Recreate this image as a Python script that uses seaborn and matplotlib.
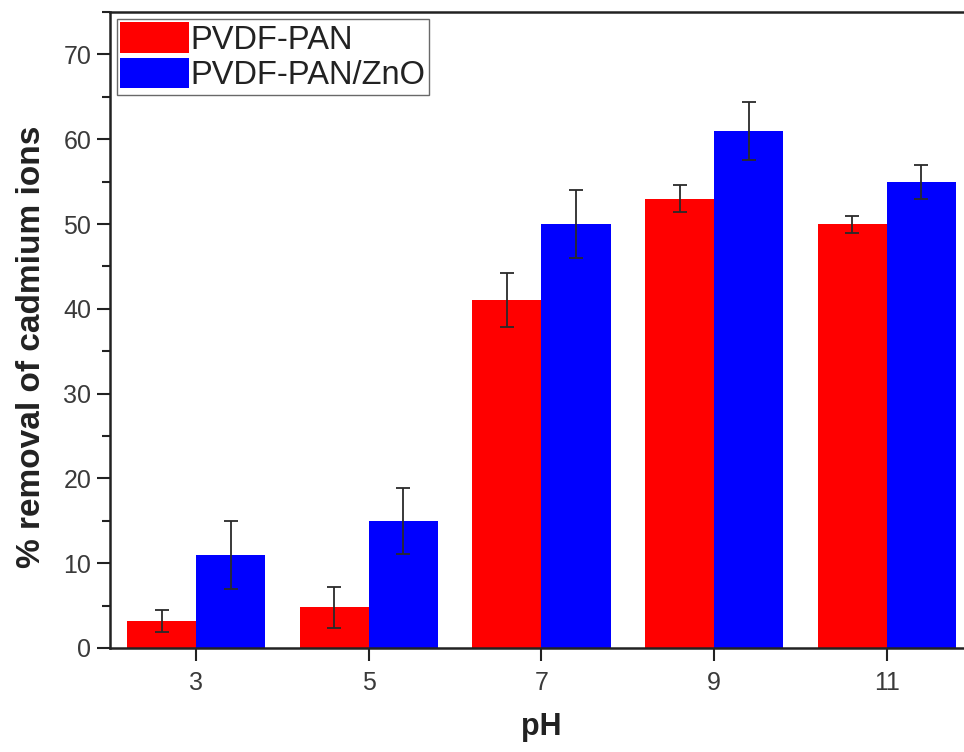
import numpy as np
import pandas as pd
import seaborn as sns
import matplotlib.pyplot as plt
from matplotlib.ticker import MultipleLocator

# Cadmium removal at each pH for the two membranes
ph_values = [3, 5, 7, 9, 11]
membranes = ["PVDF-PAN", "PVDF-PAN/ZnO"]
removal_pvdf_pan = [3.2, 4.8, 41.0, 53.0, 50.0]
removal_pvdf_pan_zno = [11.0, 15.0, 50.0, 61.0, 55.0]
err_pvdf_pan = [1.3, 2.4, 3.2, 1.6, 1.0]
err_pvdf_pan_zno = [4.0, 3.9, 4.0, 3.4, 2.0]

df = pd.DataFrame({
    "pH": ph_values * 2,
    "removal": removal_pvdf_pan + removal_pvdf_pan_zno,
    "membrane": [membranes[0]] * len(ph_values) + [membranes[1]] * len(ph_values),
})
errors = {membranes[0]: err_pvdf_pan, membranes[1]: err_pvdf_pan_zno}

sns.set_theme(style="ticks")
plt.rcParams["font.family"] = ["Liberation Sans", "DejaVu Sans"]

fig = plt.figure(figsize=(9.64, 7.52), dpi=100)
ax = fig.add_axes([0.1141, 0.1383, 0.8952, 0.8457])

sns.barplot(
    data=df, x="pH", y="removal", hue="membrane", hue_order=membranes,
    palette=["#ff0000", "#0000ff"], native_scale=True, width=0.8,
    errorbar=None, saturation=1.0, linewidth=0, ax=ax,
)

# Standard-deviation whiskers placed on the centre of each drawn bar
for container, name in zip(ax.containers, membranes):
    xs = [p.get_x() + p.get_width() / 2 for p in container.patches]
    hs = [p.get_height() for p in container.patches]
    ax.errorbar(xs, hs, yerr=errors[name], fmt="none", ecolor="#2a2a2a",
                elinewidth=1.3, capsize=5, capthick=1.3, zorder=5)

ax.set_xlim(2, 12)
ax.set_ylim(0, 75)
ax.set_xticks(ph_values)
ax.set_xticklabels([str(v) for v in ph_values])
ax.yaxis.set_major_locator(MultipleLocator(10))
ax.yaxis.set_minor_locator(MultipleLocator(5))
ax.set_yticks(np.arange(0, 71, 10))

ax.tick_params(axis="both", which="major", direction="out", length=9.5,
               width=1.5, labelsize=18, labelcolor="#3a3a3a", color="#222222")
ax.tick_params(axis="y", which="minor", direction="out", length=5.5,
               width=1.5, color="#222222")
ax.tick_params(axis="x", which="major", pad=7)
ax.tick_params(axis="y", which="major", pad=4)

for side in ["left", "bottom", "top"]:
    ax.spines[side].set_linewidth(1.8)
    ax.spines[side].set_color("#222222")
ax.spines["right"].set_visible(False)

ax.set_xlabel("pH", fontsize=22, fontweight="bold", color="#222222", labelpad=12)
ax.set_ylabel("% removal of cadmium ions", fontsize=24, fontweight="bold",
              color="#222222", labelpad=12)
ax.yaxis.label.set_y(0.473)

leg = ax.legend(
    loc="upper left", fontsize=23.5, frameon=True, fancybox=False,
    handlelength=2.1, handleheight=1.05, handletextpad=0.05,
    labelspacing=0.07, borderpad=0.1, borderaxespad=0.22,
)
leg.get_frame().set_edgecolor("#444444")
leg.get_frame().set_linewidth(1.0)
for t in leg.get_texts():
    t.set_color("#222222")
leg.set_title(None)

fig.savefig("out.png", dpi=100, facecolor="white")
